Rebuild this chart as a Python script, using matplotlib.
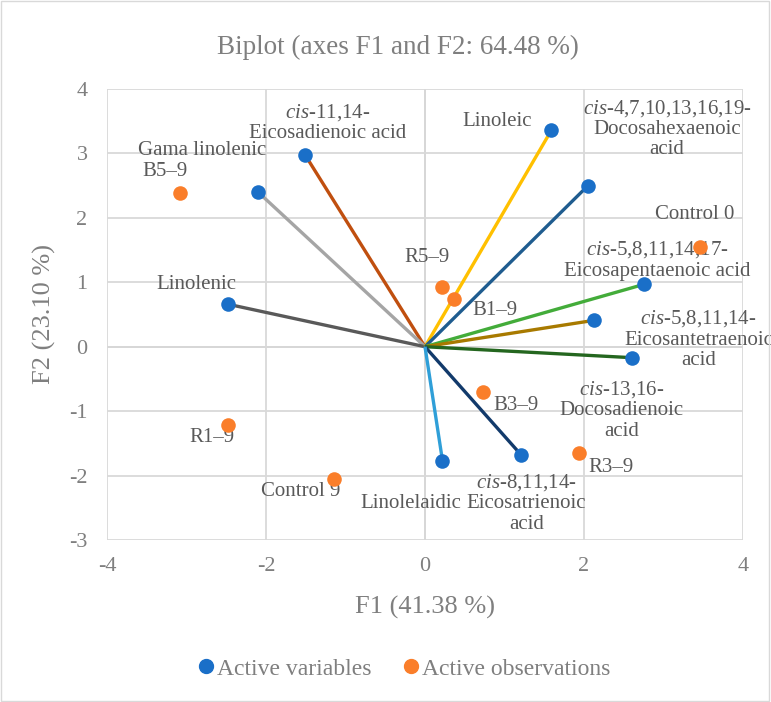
import matplotlib
matplotlib.use("Agg")
import matplotlib.pyplot as plt
from matplotlib.lines import Line2D
from matplotlib.patches import Rectangle

plt.rcParams['font.family'] = ['Liberation Serif', 'DejaVu Serif']
plt.rcParams['mathtext.fontset'] = 'custom'
plt.rcParams['mathtext.rm'] = 'Liberation Serif'
plt.rcParams['mathtext.it'] = 'Liberation Serif:italic'
plt.rcParams['axes.unicode_minus'] = False

# ---- data ----
var_labels = [
    r"$\it{cis}$-11,14-" + "\nEicosadienoic acid",
    "Gama linolenic",
    "Linolenic",
    "Linoleic",
    r"$\it{cis}$-4,7,10,13,16,19-" + "\nDocosahexaenoic\nacid",
    r"$\it{cis}$-5,8,11,14,17-" + "\nEicosapentaenoic acid",
    r"$\it{cis}$-5,8,11,14-" + "\nEicosantetraenoic\nacid",
    r"$\it{cis}$-13,16-" + "\nDocosadienoic\nacid",
    r"$\it{cis}$-8,11,14-" + "\nEicosatrienoic\nacid",
    "Linolelaidic",
]
var_f1 = [-1.51, -2.10, -2.48, 1.59, 2.05, 2.76, 2.13, 2.60, 1.21, 0.22]
var_f2 = [2.98, 2.40, 0.66, 3.36, 2.50, 0.97, 0.41, -0.17, -1.68, -1.77]

obs_labels = ["B5\u20139", "R5\u20139", "B1\u20139", "Control 0", "B3\u20139",
              "R1\u20139", "R3\u20139", "Control 9"]
obs_f1 = [-3.08, 0.22, 0.37, 3.46, 0.73, -2.48, 1.94, -1.14]
obs_f2 = [2.39, 0.92, 0.74, 1.54, -0.70, -1.21, -1.65, -2.05]

x_ticks = [-4, -2, 0, 2, 4]
y_ticks = [-3, -2, -1, 0, 1, 2, 3, 4]

# ---- style ----
line_colors = ["#C04F0F", "#A5A5A5", "#595959", "#FFC000", "#1F5C8F",
               "#43AC3A", "#A87A00", "#24661F", "#123A6B", "#2F9FD8"]
var_offsets = [(23, 32), (-56, 42), (-31, 20), (-54, 9), (79, 57),
               (13, 24), (104, -19), (-10, -52), (5, -48), (-32, -43)]
obs_offsets = [(-15, 21), (-15, 30), (41, -11), (-5, 33), (33, -14),
               (-16, -13), (32, -14), (-34, -13)]
blue = "#1A6FC8"
orange = "#FA7E2A"
label_color = "#595959"
axis_color = "#7F7F7F"
grid_color = "#D9D9D9"

W, H = 771, 702
fig = plt.figure(figsize=(W / 100, H / 100), dpi=100)
fig.patches.append(Rectangle((0.001, 0.001), 0.997, 0.997, transform=fig.transFigure,
                             fill=False, edgecolor=grid_color, linewidth=1))
ax = fig.add_axes([107 / W, (H - 540) / H, (743 - 107) / W, (540 - 89) / H])

ax.set_xlim(-4, 4)
ax.set_ylim(-3, 4)
ax.set_xticks(x_ticks)
ax.set_yticks(y_ticks)
ax.tick_params(length=0, labelsize=16, labelcolor=axis_color)
ax.tick_params(axis='x', pad=12)
ax.tick_params(axis='y', pad=14)
ax.grid(True, color=grid_color, linewidth=1.3, zorder=0)
ax.set_axisbelow(True)
for s in ax.spines.values():
    s.set_visible(False)
ax.axhline(0, color="#BFBFBF", linewidth=1.3, zorder=0.5)
ax.axvline(0, color="#BFBFBF", linewidth=1.3, zorder=0.5)

for x, y, c in zip(var_f1, var_f2, line_colors):
    ax.plot([0, x], [0, y], color=c, linewidth=2.4, zorder=2, solid_capstyle='butt')

ax.scatter(var_f1, var_f2, s=110, color=blue, zorder=4, linewidths=0)
ax.scatter(obs_f1, obs_f2, s=110, color=orange, zorder=4, linewidths=0)

for x, y, lab, (dx, dy) in zip(var_f1, var_f2, var_labels, var_offsets):
    ax.annotate(lab, (x, y), xytext=(dx, dy), textcoords='offset pixels',
                ha='center', va='center', fontsize=15, color=label_color,
                linespacing=1.1, zorder=3, annotation_clip=False)
for x, y, lab, (dx, dy) in zip(obs_f1, obs_f2, obs_labels, obs_offsets):
    ax.annotate(lab, (x, y), xytext=(dx, dy), textcoords='offset pixels',
                ha='center', va='center', fontsize=15, color=label_color,
                zorder=3, annotation_clip=False)

fig.text(398 / W, 1 - 47 / H, "Biplot (axes F1 and F2: 64.48 %)", ha='center', va='center',
         fontsize=19.5, color=axis_color)
fig.text(425 / W, 1 - 607 / H, "F1 (41.38 %)", ha='center', va='center',
         fontsize=19, color=axis_color)
fig.text(44 / W, 1 - 314 / H, "F2 (23.10 %)", ha='center', va='center', rotation=90,
         fontsize=19, color=axis_color)

handles = [Line2D([], [], marker='o', linestyle='', color=blue, markersize=10),
           Line2D([], [], marker='o', linestyle='', color=orange, markersize=10)]
fig.legend(handles, ["Active variables", "Active observations"], loc='center',
           bbox_to_anchor=(403 / W, 1 - 669 / H), ncol=2, frameon=False,
           fontsize=17, labelcolor=axis_color, handletextpad=0.0, columnspacing=1.25,
           handlelength=0.9)

fig.savefig("out.png", dpi=100)
